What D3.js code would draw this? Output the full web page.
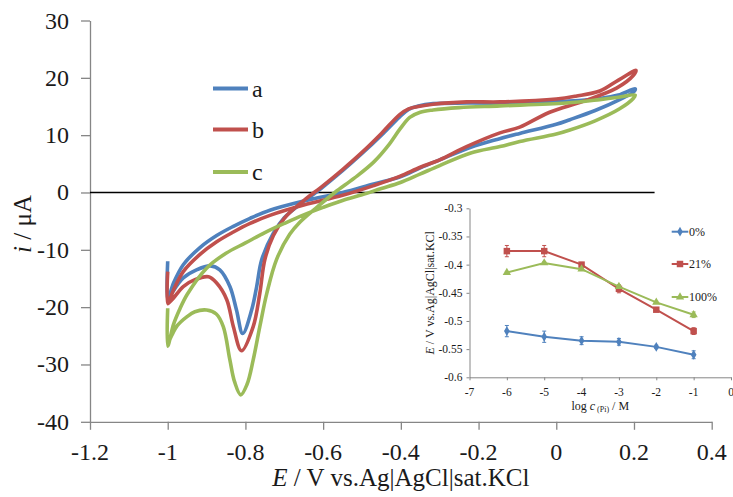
<!DOCTYPE html>
<html><head><meta charset="utf-8">
<script src="https://cdn.jsdelivr.net/npm/d3@7"></script>
<style>body{margin:0;background:#fff}svg{display:block}</style>
</head><body><svg id="c" width="733" height="497"></svg>
<script>
// ---------- main chart data ----------
const xTicks = [-1.2, -1, -0.8, -0.6, -0.4, -0.2, 0, 0.2, 0.4];
const xTickLabels = ['-1.2', '-1', '-0.8', '-0.6', '-0.4', '-0.2', '0', '0.2', '0.4'];
const yTicks = [-40, -30, -20, -10, 0, 10, 20, 30];
const yTickLabels = ['-40', '-30', '-20', '-10', '0', '10', '20', '30'];
const seriesNames = ['a', 'b', 'c'];
const seriesColors = ['#4F81BD', '#C0504D', '#9BBB59'];
const zeroLine = [[-1.2, 0], [0.253, 0]];

const curveA = [
  [-1,-12.0],[-1,-18.7],
  [-0.985,-15.8],[-0.96,-12.6],[-0.917,-9.6],[-0.874,-7.5],[-0.831,-5.9],[-0.788,-4.5],[-0.737,-3.1],
  [-0.65,-1.5],[-0.55,0.0],[-0.47,1.5],[-0.403,2.7],[-0.35,4.3],[-0.3,5.7],[-0.22,7.9],[-0.15,9.3],
  [-0.094,10.3],[0,11.9],[0.035,12.7],[0.1,14.3],[0.163,16.2],[0.2,17.6],
  [0.203,18.1],
  [0.16,17.0],[0.112,16.4],[0.026,15.9],[-0.06,15.6],[-0.231,15.6],[-0.317,15.5],[-0.355,15.1],[-0.38,14.5],[-0.403,13.2],
  [-0.45,10.0],[-0.5,6.8],[-0.55,3.8],[-0.6,1.0],[-0.65,-1.6],[-0.7,-4.4],[-0.728,-7.1],[-0.758,-11.7],[-0.771,-16.4],
  [-0.784,-20.5],[-0.807,-24.6],
  [-0.823,-20.5],[-0.84,-16.4],[-0.866,-13.5],[-0.89,-12.8],[-0.926,-13.5],[-0.96,-14.9],[-0.986,-17.2],[-0.998,-18.6]
];
const curveB = [
  [-1,-13.8],[-1,-19.4],
  [-0.985,-17.0],[-0.96,-13.8],[-0.917,-10.8],[-0.874,-8.6],[-0.831,-6.9],[-0.788,-5.4],[-0.737,-4.0],
  [-0.65,-2.2],[-0.55,-0.5],[-0.47,1.2],[-0.403,2.8],[-0.35,4.4],[-0.3,5.7],[-0.231,8.0],[-0.145,10.4],
  [-0.094,11.4],[-0.017,14.0],[0.069,15.9],[0.155,18.2],[0.198,20.4],
  [0.205,21.3],
  [0.16,19.6],[0.112,17.7],[0.05,16.8],[0.0,16.3],[-0.145,15.8],[-0.231,15.8],[-0.317,15.4],[-0.355,15.0],[-0.38,14.6],[-0.403,13.6],
  [-0.45,10.3],[-0.5,7.0],[-0.55,4.0],[-0.6,1.2],[-0.65,-1.4],[-0.7,-4.5],[-0.728,-7.5],[-0.75,-11.7],[-0.763,-17.6],
  [-0.78,-23.4],[-0.81,-27.6],
  [-0.831,-23.4],[-0.848,-18.7],[-0.874,-15.8],[-0.895,-14.7],[-0.93,-15.2],[-0.96,-16.4],[-0.986,-18.5],[-0.998,-19.3]
];
const curveC = [
  [-1,-20.2],[-1,-26.8],
  [-0.985,-23.0],[-0.97,-20.5],[-0.95,-17.8],[-0.9,-13.2],[-0.85,-10.6],[-0.8,-8.8],[-0.75,-7.0],[-0.7,-5.4],
  [-0.65,-3.9],[-0.6,-2.6],[-0.55,-1.4],[-0.5,-0.4],[-0.45,0.7],[-0.403,1.7],[-0.351,3.2],[-0.3,4.7],[-0.22,6.9],
  [-0.145,8.0],[-0.094,8.9],[0,10.2],[0.035,10.9],[0.1,12.5],[0.163,14.6],[0.198,16.4],
  [0.203,17.0],
  [0.16,16.6],[0.112,16.2],[0.026,15.6],[-0.145,15.1],[-0.25,14.8],[-0.317,14.4],[-0.35,14.0],[-0.377,13.1],[-0.403,11.0],
  [-0.43,8.4],[-0.47,5.3],[-0.52,2.5],[-0.57,0.0],[-0.62,-2.8],[-0.66,-5.2],[-0.686,-7.3],[-0.72,-11.7],[-0.745,-17.6],
  [-0.763,-23.4],[-0.78,-29.2],[-0.796,-33.5],[-0.812,-35.3],
  [-0.828,-33.0],[-0.84,-29.2],[-0.857,-23.4],[-0.875,-21.2],[-0.9,-20.5],[-0.93,-20.8],[-0.951,-21.7],[-0.975,-23.2],
  [-0.99,-25.0],[-0.998,-26.2]
];
const curves = [curveA, curveB, curveC];

// ---------- inset data ----------
const inXTicks = [-7, -6, -5, -4, -3, -2, -1, 0];
const inXTickLabels = ['-7', '-6', '-5', '-4', '-3', '-2', '-1', '0'];
const inYTicks = [-0.6, -0.55, -0.5, -0.45, -0.4, -0.35, -0.3];
const inYTickLabels = ['-0.6', '-0.55', '-0.5', '-0.45', '-0.4', '-0.35', '-0.3'];
const inX = [-6, -5, -4, -3, -2, -1];
const inNames = ['0%', '21%', '100%'];
const in0 = [-0.518, -0.528, -0.535, -0.537, -0.546, -0.560];
const in0Err = [0.010, 0.010, 0.007, 0.006, 0.003, 0.007];
const in21 = [-0.376, -0.376, -0.400, -0.443, -0.480, -0.518];
const in21Err = [0.010, 0.010, 0.004, 0.007, 0.002, 0.006];
const in100 = [-0.414, -0.397, -0.408, -0.439, -0.467, -0.489];
const in100Err = [0.002, 0.002, 0.002, 0.003, 0.002, 0.005];
const inSeries = [[in0, in0Err], [in21, in21Err], [in100, in100Err]];

// ---------- drawing ----------
const svg = d3.select('#c');
svg.append('rect').attr('width', 733).attr('height', 497).attr('fill', '#fff');
const font = 'Liberation Serif';
const axisGrey = '#868686';
const textCol = '#1a1a1a';

const x = d3.scaleLinear().domain([-1.2, 0.4]).range([90, 711.7]);
const y = d3.scaleLinear().domain([-40, 30]).range([421.8, 20.5]);

function styleAxis(g, sw) {
  g.select('.domain').attr('stroke', axisGrey).attr('stroke-width', sw);
  g.selectAll('.tick line').attr('stroke', axisGrey).attr('stroke-width', sw);
  g.selectAll('.tick text').remove();
}
function addText(parent, xx, yy, str, size, anchor) {
  return parent.append('text').attr('x', xx).attr('y', yy).attr('text-anchor', anchor || 'start')
    .attr('font-family', font).attr('font-size', size).attr('fill', textCol).text(str);
}

const gx = svg.append('g').attr('transform', `translate(0,${y(-40)})`)
  .call(d3.axisBottom(x).tickValues(xTicks).tickSize(8).tickSizeOuter(0));
styleAxis(gx, 1.3);
const gy = svg.append('g').attr('transform', `translate(${x(-1.2)},0)`)
  .call(d3.axisLeft(y).tickValues(yTicks).tickSize(9).tickSizeOuter(0));
styleAxis(gy, 1.3);
xTicks.forEach((t, i) => addText(svg, x(t), y(-40) + 38, xTickLabels[i], 24, 'middle'));
yTicks.forEach((t, i) => addText(svg, x(-1.2) - 21, y(t) + 8, yTickLabels[i], 24, 'end'));

// zero line
svg.append('path').datum(zeroLine)
  .attr('d', d3.line().x(d => x(d[0])).y(d => y(d[1])))
  .attr('stroke', '#000').attr('stroke-width', 1.3).attr('fill', 'none');

// titles
const xt = addText(svg, (x(-1.2) + x(0.4)) / 2, 486, null, 25, 'middle');
xt.append('tspan').attr('font-style', 'italic').text('E');
xt.append('tspan').text(' / V vs.Ag|AgCl|sat.KCl');

const yt = svg.append('text').attr('transform', 'translate(31,224) rotate(-90)')
  .attr('text-anchor', 'middle').attr('font-family', font).attr('font-size', 25).attr('fill', textCol);
yt.append('tspan').attr('font-style', 'italic').text('i');
yt.append('tspan').text(' / μA');

// curves
const line = d3.line().x(d => x(d[0])).y(d => y(d[1])).curve(d3.curveCatmullRom.alpha(0.5));
curves.forEach((c, k) => {
  svg.append('path').datum(c).attr('d', line)
    .attr('fill', 'none').attr('stroke', seriesColors[k]).attr('stroke-width', 3.6)
    .attr('stroke-linejoin', 'round').attr('stroke-linecap', 'butt');
});

// legend
const legY = [88.5, 129.5, 172];
seriesNames.forEach((n, k) => {
  svg.append('line').attr('x1', 213).attr('x2', 248).attr('y1', legY[k]).attr('y2', legY[k])
    .attr('stroke', seriesColors[k]).attr('stroke-width', 3.8);
  addText(svg, 252, legY[k] + 8, n, 24);
});

// ---------- inset ----------
const ix = d3.scaleLinear().domain([-7, 0]).range([469.5, 731]);
const iy = d3.scaleLinear().domain([-0.6, -0.3]).range([377.3, 208.3]);

const igx = svg.append('g').attr('transform', `translate(0,${iy(-0.6)})`)
  .call(d3.axisBottom(ix).tickValues(inXTicks).tickSize(3).tickSizeOuter(0));
styleAxis(igx, 1);
const igy = svg.append('g').attr('transform', `translate(${ix(-7)},0)`)
  .call(d3.axisLeft(iy).tickValues(inYTicks).tickSize(3).tickSizeOuter(0));
styleAxis(igy, 1);
inXTicks.forEach((t, i) => addText(svg, ix(t), iy(-0.6) + 19, inXTickLabels[i], 11.5, 'middle'));
inYTicks.forEach((t, i) => addText(svg, ix(-7) - 7, iy(t) + 4, inYTickLabels[i], 11.5, 'end'));

const ixt = addText(svg, (ix(-7) + ix(0)) / 2, 410, null, 12, 'middle');
ixt.append('tspan').text('log ');
ixt.append('tspan').attr('font-style', 'italic').text('c');
ixt.append('tspan').attr('font-size', 8).attr('dy', 2).text(' (Pi)');
ixt.append('tspan').attr('dy', -2).text('  / M');

const iyt = svg.append('text').attr('transform', `translate(434,${(iy(-0.6) + iy(-0.3)) / 2}) rotate(-90)`)
  .attr('text-anchor', 'middle').attr('font-family', font).attr('font-size', 12).attr('fill', textCol);
iyt.append('tspan').attr('font-style', 'italic').text('E');
iyt.append('tspan').text(' / V vs.Ag|AgCl|sat.KCl');

const symbols = [d3.symbolDiamond, d3.symbolSquare, d3.symbolTriangle];
const symSize = [28, 42, 30];
const iline = d3.line().x(d => ix(d[0])).y(d => iy(d[1]));
inSeries.forEach(([vals, errs], k) => {
  const pts = inX.map((xv, j) => [xv, vals[j], errs[j]]);
  const col = seriesColors[k];
  svg.append('path').datum(pts).attr('d', iline).attr('fill', 'none')
    .attr('stroke', col).attr('stroke-width', 2);
  pts.forEach(p => {
    const cx = ix(p[0]);
    svg.append('line').attr('x1', cx).attr('x2', cx).attr('y1', iy(p[1] - p[2])).attr('y2', iy(p[1] + p[2]))
      .attr('stroke', col).attr('stroke-width', 1);
    [p[1] - p[2], p[1] + p[2]].forEach(v => {
      svg.append('line').attr('x1', cx - 2).attr('x2', cx + 2).attr('y1', iy(v)).attr('y2', iy(v))
        .attr('stroke', col).attr('stroke-width', 1);
    });
    svg.append('path').attr('d', d3.symbol(symbols[k], symSize[k])())
      .attr('transform', `translate(${cx},${iy(p[1])})`).attr('fill', col);
  });
});

// inset legend
const iLegY = [231.7, 264, 297];
inNames.forEach((n, k) => {
  const col = seriesColors[k];
  svg.append('line').attr('x1', 671.7).attr('x2', 688.3).attr('y1', iLegY[k]).attr('y2', iLegY[k])
    .attr('stroke', col).attr('stroke-width', 2);
  svg.append('path').attr('d', d3.symbol(symbols[k], symSize[k])())
    .attr('transform', `translate(680,${iLegY[k]})`).attr('fill', col);
  addText(svg, 689, iLegY[k] + 4, n, 12);
});
</script>
</body></html>
